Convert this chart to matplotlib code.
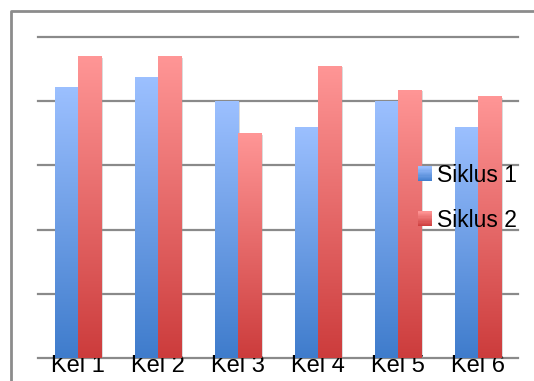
import numpy as np
import matplotlib.pyplot as plt
from matplotlib.colors import LinearSegmentedColormap
from matplotlib.patches import Rectangle
from matplotlib.legend_handler import HandlerBase
from matplotlib.lines import Line2D

categories = ['Kel 1', 'Kel 2', 'Kel 3', 'Kel 4', 'Kel 5', 'Kel 6']
siklus1 = [84.5, 87.5, 80, 72, 80, 72]
siklus2 = [94, 94, 70, 91, 83.5, 81.5]
series_names = ['Siklus 1', 'Siklus 2']

# light at the top, darker at the bottom
blue_cmap = LinearSegmentedColormap.from_list('blue', ['#3f7ccc', '#9cc0ff'])
red_cmap = LinearSegmentedColormap.from_list('red', ['#cc3c3c', '#ff9696'])

plt.rcParams['font.family'] = ['Liberation Sans', 'DejaVu Sans']

W, H = 534, 381
fig = plt.figure(figsize=(W / 100, H / 100), dpi=100)
ax = fig.add_axes([38 / W, (H - 358) / H, 480 / W, 321 / H])

x = np.arange(len(categories))
bw = 0.29
grad = np.linspace(0, 1, 256).reshape(-1, 1)


def gradient_bars(xs, vals, cmap):
    bars = ax.bar(xs, vals, bw, color='none', zorder=3)
    for b in bars:
        x0, w, h = b.get_x(), b.get_width(), b.get_height()
        # soft shadow on the right side
        ax.add_patch(Rectangle((x0 + 0.02, 0), w, h - 0.4, color='#999999',
                               alpha=0.35, lw=0, zorder=2))
        im = ax.imshow(grad, cmap=cmap, origin='lower', aspect='auto',
                       extent=(x0, x0 + w, 0, h), zorder=3, interpolation='bilinear')
        im.set_clip_path(b)
    return bars


gradient_bars(x - bw / 2, siklus1, blue_cmap)
gradient_bars(x + bw / 2, siklus2, red_cmap)

for g in range(0, 101, 20):
    ax.axhline(g, color='#8a8a8a', lw=1.6, zorder=1, clip_on=False)

ax.set_xlim(-0.5, len(categories) - 0.5)
ax.set_ylim(0, 100)
ax.set_xticks(x)
ax.set_xticklabels(categories, fontsize=17)
ax.tick_params(axis='x', length=0, pad=-2)
ax.set_yticks([])
for s in ax.spines.values():
    s.set_visible(False)


class GradientHandler(HandlerBase):
    def __init__(self, cmap):
        super().__init__()
        self.cmap = cmap

    def create_artists(self, legend, orig_handle, xdescent, ydescent,
                       width, height, fontsize, trans):
        n = 12
        arts = []
        for i in range(n):
            arts.append(Rectangle((-xdescent, -ydescent + height * i / n), width, height / n + 0.3,
                                  color=self.cmap((i + 0.5) / n), lw=0, transform=trans))
        return arts


h1 = Line2D([], [])
h2 = Line2D([], [])
fig.legend([h1, h2], series_names, loc='center left',
           bbox_to_anchor=(418 / W, 1 - 198 / H), frameon=False, fontsize=16.5,
           handler_map={h1: GradientHandler(blue_cmap), h2: GradientHandler(red_cmap)},
           handlelength=0.62, handleheight=0.62, handletextpad=0.22,
           labelspacing=0.95, borderpad=0, borderaxespad=0)

# chart area border
fig.add_artist(Line2D([11 / W, 11 / W, 1.0], [0, 1 - 11 / H, 1 - 11 / H],
                      transform=fig.transFigure, color='#8c8c8c', lw=2))

fig.savefig('out.png', dpi=100)
